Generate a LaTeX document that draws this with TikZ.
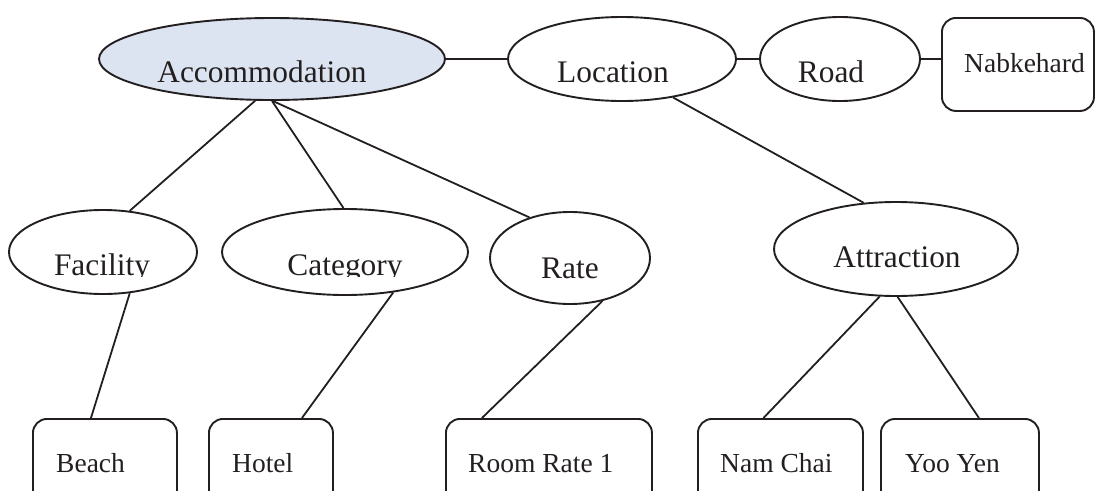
\documentclass[tikz,border=0pt]{standalone}
\usepackage{fontspec}
\setmainfont{Liberation Serif}
\usetikzlibrary{shapes.geometric,calc}
\definecolor{ink}{RGB}{35,31,32}
\definecolor{accfill}{RGB}{220,228,242}
\begin{document}
\begin{tikzpicture}[x=1pt,y=-1pt,
  oval/.style={ellipse, draw=ink, line width=1.9pt, inner sep=0pt},
  leaf/.style={rectangle, rounded corners=14pt, draw=ink, line width=1.9pt,
    inner sep=0pt, anchor=north west},
  elabel/.style={anchor=base, text=ink, inner sep=0pt,
    font=\fontsize{31.4}{36}\selectfont},
  blabel/.style={anchor=base west, text=ink, inner sep=0pt,
    font=\fontsize{27.5}{32}\selectfont},
  link/.style={draw=ink, line width=1.8pt}]
\useasboundingbox (0,0) rectangle (1105,490);
\clip (0,0) rectangle (1105,490);

% concept ovals
\node[oval, fill=accfill, minimum width=346pt, minimum height=82pt] (acc) at (272,59) {};
\node[oval, minimum width=228pt, minimum height=84pt] (loc) at (622,59) {};
\node[oval, minimum width=160pt, minimum height=84pt] (road) at (840,59) {};
\node[oval, minimum width=188pt, minimum height=84pt] (fac) at (103,252) {};
\node[oval, minimum width=246pt, minimum height=86pt] (cat) at (345,252) {};
\node[oval, minimum width=160pt, minimum height=92pt] (rate) at (570,258) {};
\node[oval, minimum width=244pt, minimum height=94pt] (att) at (896,249) {};

% oval captions
\node[elabel] (acct) at (262,82) {Accommodation};
\node[elabel] (loct) at (613,82) {Location};
\node[elabel] (roadt) at (831,82) {Road};
\node[elabel] (ratet) at (570,278) {Rate};
\node[elabel] (attt) at (897,267) {Attraction};
\begin{scope}
  \clip (0,0) rectangle (1105,276);
  \node[elabel] (fact) at (102,275) {Facility};
  \node[elabel] (catt) at (345,275) {Category};
\end{scope}

% instance boxes
\node[leaf, minimum width=152pt, minimum height=93pt] (nab) at (941,17) {};
\node[leaf, minimum width=144pt, minimum height=92pt] (beach) at (32,418) {};
\node[leaf, minimum width=124pt, minimum height=92pt] (hotel) at (208,418) {};
\node[leaf, minimum width=206pt, minimum height=92pt] (room) at (445,418) {};
\node[leaf, minimum width=165pt, minimum height=92pt] (nam) at (697,418) {};
\node[leaf, minimum width=158pt, minimum height=92pt] (yoo) at (880,418) {};

% box captions
\node[blabel] (nabt) at (964,72) {Nabkehard};
\node[blabel] (beacht) at (56,472) {Beach};
\node[blabel] (hotelt) at (232,472) {Hotel};
\node[blabel] (roomt) at (468,472) {Room Rate 1};
\node[blabel] (namt) at (720,472) {Nam Chai};
\node[blabel] (yoot) at (905,472) {Yoo Yen};

% connectors
\draw[link] (acc.east) -- (loc.west);
\draw[link] (loc.east) -- (road.west);
\draw[link] (road.east) -- (road.east -| nab.west);
\draw[link] (acc.-112.5) -- (fac.57);
\draw[link] (acc.south) -- (cat.92);
\draw[link] (acc.-89) -- (rate.135);
\draw[link] (loc.-37) -- (att.125);
\draw[link] (fac.-57) -- ($(beach.north)+(-14,0)$);
\draw[link] (cat.-40) -- ($(hotel.north)+(31,0)$);
\draw[link] (rate.-53) -- ($(room.north)+(-67,0)$);
\draw[link] (att.-109) -- ($(nam.north)+(-17,0)$);
\draw[link] (att.-88) -- ($(yoo.north)+(19,0)$);
\end{tikzpicture}
\end{document}
